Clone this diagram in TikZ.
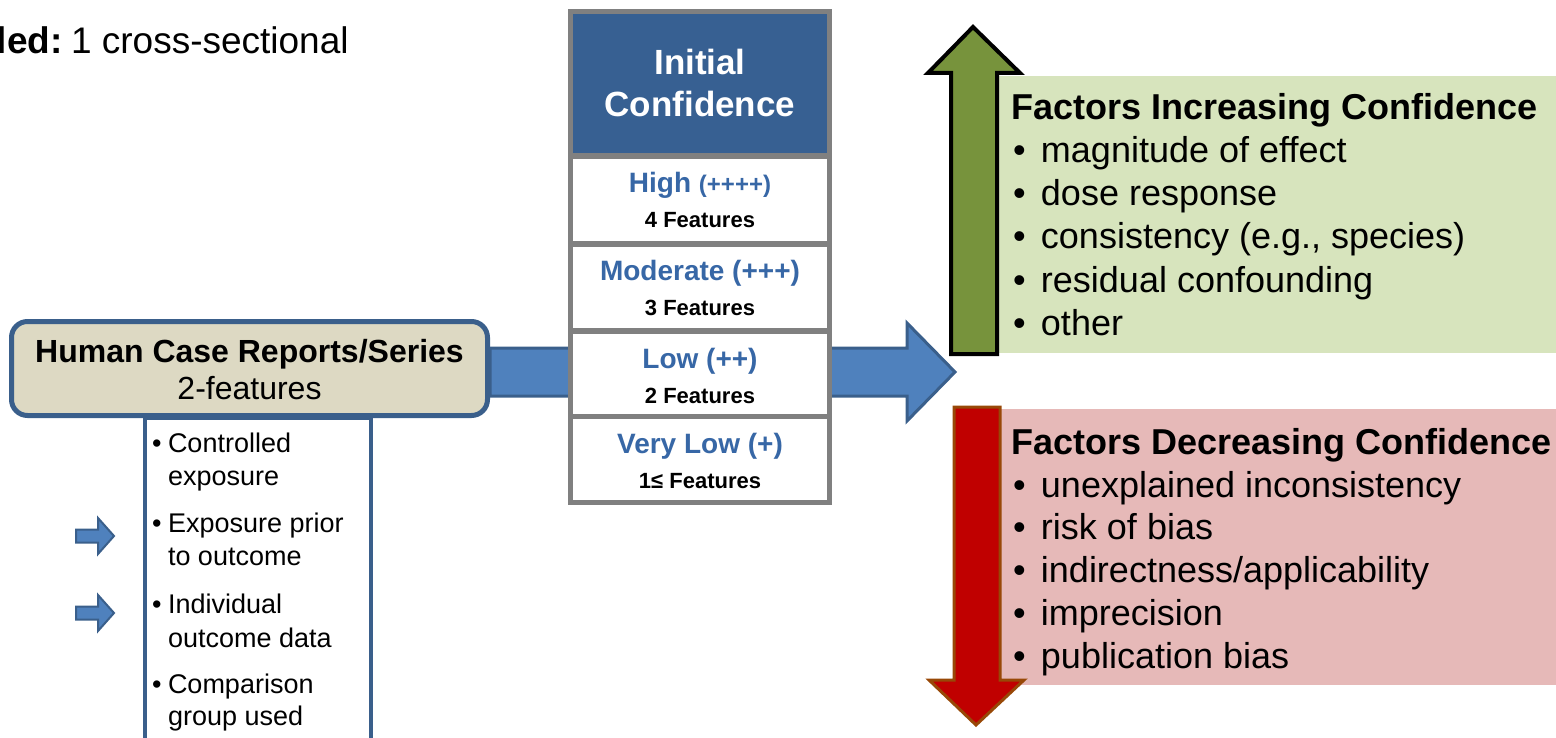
\documentclass[tikz,border=0pt]{standalone}
\usepackage{fontspec}
\setmainfont{Liberation Sans}
\definecolor{arrblue}{HTML}{4F81BD}
\definecolor{arrblueb}{HTML}{3A5F8B}
\definecolor{hdrblue}{HTML}{376092}
\definecolor{rowblue}{HTML}{3767A6}
\definecolor{tblgray}{HTML}{808080}
\definecolor{tan}{HTML}{DDD9C3}
\definecolor{grarrow}{HTML}{77933C}
\definecolor{grbox}{HTML}{D7E4BD}
\definecolor{rdarrow}{HTML}{C00000}
\definecolor{rdborder}{HTML}{984807}
\definecolor{rdbox}{HTML}{E6B9B8}
\newcommand{\fs}[1]{\fontsize{#1}{#1}\selectfont}
\begin{document}
\begin{tikzpicture}[x=1pt,y=-1pt,
  txt/.style={inner sep=0pt,outer sep=0pt},
  cellbox/.style={inner sep=0pt,outer sep=0pt,minimum width=254pt},
  blockarrow/.style={fill=arrblue,draw=arrblueb,line join=miter},
  item/.style={txt,anchor=base west,font=\fs{36}},
  feat/.style={txt,anchor=base west,font=\fs{27}},
  rowhead/.style={txt,anchor=base,text=rowblue,font=\bfseries\fs{28}},
  rowsub/.style={txt,anchor=base,font=\bfseries\fs{22}}
]
\useasboundingbox (0,0) rectangle (1556,738);
\clip (0,0) rectangle (1556,738);

% top-left text
\node[txt,anchor=base west,font=\fs{37}] (toptext) at (-3,54) {\textbf{led:}\kern-2pt\ 1 cross-sectional};

% big blue arrow
\coordinate (bigtail) at (490,372);
\coordinate (bigtip) at (955,372);
\draw[blockarrow,line width=3pt] (490,348) -- (907,348) -- (907,323) -- (bigtip) -- (907,421) -- (907,396) -- (490,396) -- cycle;

% feature list box
\node[draw=arrblueb,fill=white,line width=4pt,minimum width=226pt,minimum height=330pt,inner sep=0pt,anchor=north west] (featbox) at (143,416) {};

% human box
\node[draw=arrblueb,fill=tan,line width=5pt,rounded corners=16pt,minimum width=476pt,minimum height=94pt,inner sep=0pt] (human) at (249.5,368.5) {};
\node[txt,anchor=base,font=\bfseries\fs{32}] (humant1) at (249.5,362) {Human Case Reports/Series};
\node[txt,anchor=base,font=\fs{32}] (humant2) at (249.5,399) {2-features};

% feature items
\foreach \y/\b/\t [count=\i] in {452/1/Controlled,485/0/exposure,532/1/Exposure prior,565/0/to outcome,613/1/Individual,647/0/outcome data,693/1/Comparison,725/0/group used}{
  \ifnum\b=1 \node[feat] (fb\i) at (152,\y) {•};\fi
  \node[feat] (ft\i) at (168,\y) {\t};
}

% small arrows
\foreach \c [count=\i] in {536,613}{
  \draw[blockarrow,line width=2pt] (76,\c-6.5) -- (98,\c-6.5) -- (98,\c-18) -- (114,\c) -- (98,\c+18) -- (98,\c+6.5) -- (76,\c+6.5) -- cycle;
}

% confidence table
\node[fill=tblgray,minimum width=264pt,minimum height=496pt,inner sep=0pt,anchor=north west] (tbl) at (568,9) {};
\node[cellbox,fill=hdrblue,minimum height=139pt,anchor=north] (hdr) at (700,14) {};
\node[txt,anchor=base,text=white,font=\bfseries\fs{35}] (hdr1) at (700,75) {Initial};
\node[txt,anchor=base,text=white,font=\bfseries\fs{35}] (hdr2) at (700,117) {Confidence};
\node[cellbox,fill=white,minimum height=82pt,anchor=north] (rhigh) at (700,159) {};
\node[cellbox,fill=white,minimum height=81pt,anchor=north] (rmod) at (700,247) {};
\node[cellbox,fill=white,minimum height=80pt,anchor=north] (rlow) at (700,334) {};
\node[cellbox,fill=white,minimum height=81pt,anchor=north] (rvlow) at (700,419) {};
\node[rowhead] (thigh) at (700,193) {High {\fs{24}(++++)}};
\node[rowsub] (fhigh) at (700,228) {4 Features};
\node[rowhead] (tmod) at (700,280) {Moderate (+++)};
\node[rowsub] (fmod) at (700,315) {3 Features};
\node[rowhead] (tlow) at (700,368) {Low (++)};
\node[rowsub] (flow) at (700,403) {2 Features};
\node[rowhead] (tvlow) at (700,453) {Very Low (+)};
\node[rowsub] (fvlow) at (700,488) {1≤ Features};

% green box and arrow
\node[fill=grbox,minimum width=561pt,minimum height=277pt,inner sep=0pt,anchor=north west] (incbox) at (995,76) {};
\draw[fill=grarrow,draw=black,line width=4pt,line join=miter] (951,354) -- (951,73) -- (928,73) -- (973,27) -- (1020,73) -- (997,73) -- (997,354) -- cycle;
\node[txt,anchor=base west,font=\bfseries\fs{36}] (inctitle) at (1011,120) {Factors Increasing Confidence};
\foreach \t [count=\i] in {magnitude of effect,dose response,{consistency (e.g., species)},residual confounding,other}{
  \node[item] (inc\i) at (1013,163+43*\i-43) {\makebox[28pt][l]{•}\t};
}

% red box and arrow
\node[fill=rdbox,minimum width=561pt,minimum height=276pt,inner sep=0pt,anchor=north west] (decbox) at (995,409) {};
\draw[fill=rdarrow,draw=rdborder,line width=3pt,line join=miter] (954,407) -- (1000,407) -- (1000,680) -- (1024,680) -- (976,725) -- (929,680) -- (954,680) -- cycle;
\node[txt,anchor=base west,font=\bfseries\fs{36}] (dectitle) at (1011,454) {Factors Decreasing Confidence};
\foreach \t [count=\i] in {unexplained inconsistency,risk of bias,indirectness/applicability,imprecision,publication bias}{
  \node[item] (dec\i) at (1013,497+42.75*\i-42.75) {\makebox[28pt][l]{•}\t};
}
\end{tikzpicture}
\end{document}
